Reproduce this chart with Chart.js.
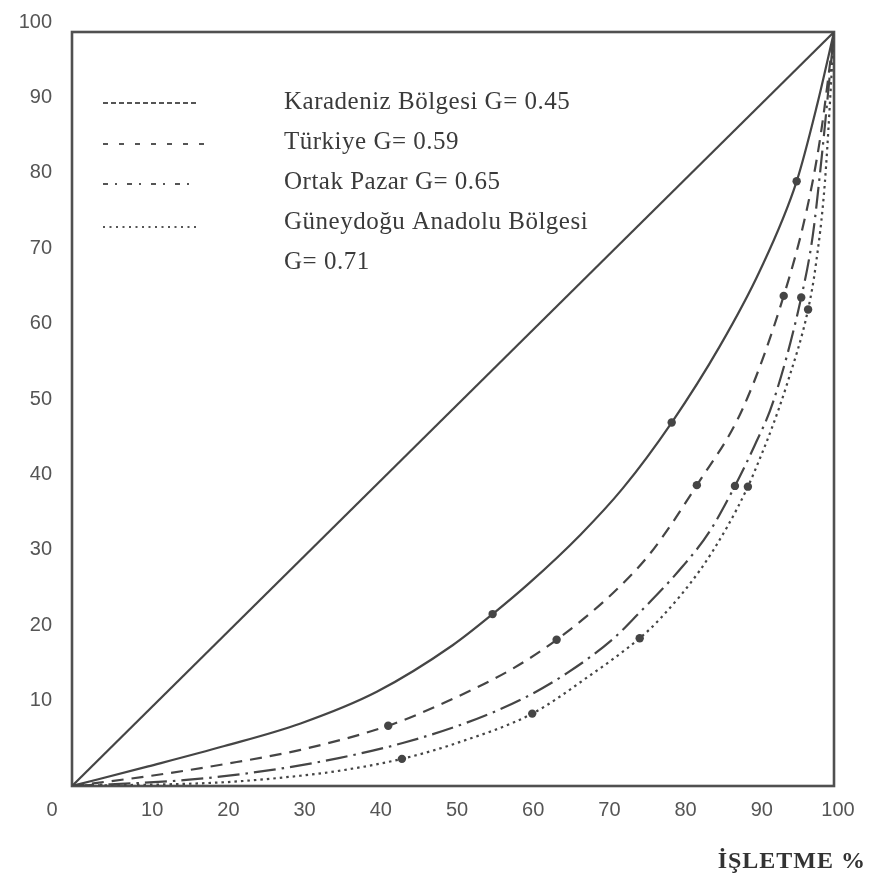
<!DOCTYPE html>
<html><head><meta charset="utf-8">
<script src="https://cdn.jsdelivr.net/npm/chart.js@4/dist/chart.umd.min.js"></script>
<style>html,body{margin:0;padding:0;background:#fff}#wrap{width:869px;height:885px}</style>
</head><body><div id="wrap"><canvas id="c" width="869" height="885"></canvas></div>
<script>
// ---- data ----
const tickValues = [0, 10, 20, 30, 40, 50, 60, 70, 80, 90, 100];
const equalityX = [0, 100];
const equalityY = [0, 100];
const karadenizX = [0, 10, 20, 30, 40, 50, 55.2, 60, 66.7, 72.3, 78.7, 85, 90.3, 95.1, 97.8, 100];
const karadenizY = [0, 2.6, 5.3, 8.3, 12.5, 18.7, 22.8, 26.9, 33.3, 39.5, 48.2, 58.3, 68.4, 80.2, 90.4, 100];
const turkiyeX = [0, 10, 20, 30, 41.5, 49.2, 57.9, 63.6, 71, 76, 82, 88, 93.4, 96.4, 98.2, 100];
const turkiyeY = [0, 1.3, 2.9, 4.8, 8.0, 11.2, 15.6, 19.4, 25.6, 31.0, 39.9, 50.0, 65.0, 76.3, 86.0, 100];
const ortakX = [0, 15, 26, 35, 43.4, 51.8, 59.2, 65, 71, 74, 80.2, 83.7, 87, 89.6, 92, 95.7, 97.2, 98.2, 100];
const ortakY = [0, 0.8, 2.1, 3.7, 5.7, 8.4, 11.6, 15.0, 19.5, 22.5, 29.2, 33.8, 39.8, 45.2, 50.9, 64.8, 72.9, 81.6, 100];
const guneyX = [0, 20, 30.3, 35.6, 43.3, 50.5, 60.4, 67.6, 74.5, 77.2, 82.4, 86, 88.7, 90.3, 92, 93.8, 96.6, 97.6, 98.8, 100];
const guneyY = [0, 0.5, 1.4, 2.1, 3.6, 5.7, 9.6, 14.4, 19.6, 22.2, 28.6, 34.4, 39.7, 43.5, 47.9, 53.2, 63.2, 69.0, 80.0, 100];
// indices of the points drawn with a filled dot
const karadenizDots = [6, 10, 13];
const turkiyeDots = [4, 7, 10, 12];
const ortakDots = [12, 15];
const guneyDots = [4, 6, 8, 12, 16];
const legendLabels = ['Karadeniz Bölgesi G= 0.45', 'Türkiye G= 0.59', 'Ortak Pazar G= 0.65', 'Güneydoğu Anadolu Bölgesi', 'G= 0.71'];
const xAxisTitle = 'İŞLETME %';
const cornerLabel = '0';

const INK = '#454545';
const toPts = (xs, ys) => xs.map((x, i) => ({x, y: ys[i]}));
const dotRadius = (dots) => (ctx) => dots.includes(ctx.dataIndex) ? 4.2 : 0;

function mkSet(label, xs, ys, dash, dots, width) {
  return {
    label, data: toPts(xs, ys), showLine: true,
    borderColor: INK, backgroundColor: INK, borderWidth: width || 2,
    borderDash: dash, borderCapStyle: 'butt',
    cubicInterpolationMode: 'monotone',
    pointRadius: dotRadius(dots), pointHoverRadius: 0,
    pointBackgroundColor: INK, pointBorderWidth: 0
  };
}

const boxPlugin = {
  id: 'box',
  beforeDatasetsDraw(chart) {
    const {ctx, chartArea: a} = chart;
    ctx.save();
    ctx.strokeStyle = '#505050'; ctx.lineWidth = 2.6;
    ctx.strokeRect(a.left, a.top, a.right - a.left, a.bottom - a.top);
    ctx.restore();
  },
  afterDraw(chart) {
    const ctx = chart.ctx;
    ctx.save();
    // corner zero
    ctx.fillStyle = '#555';
    ctx.font = '20px "Liberation Sans"';
    ctx.textAlign = 'center'; ctx.textBaseline = 'middle';
    ctx.fillText(cornerLabel, 52, 810);
    // axis title
    ctx.fillStyle = '#333';
    ctx.font = 'bold 24px "Liberation Serif"';
    ctx.letterSpacing = '1px';
    ctx.textAlign = 'right'; ctx.textBaseline = 'alphabetic';
    ctx.fillText(xAxisTitle, 866, 868);
    // legend
    const samples = [
      {y: 103, dash: [5, 3], x2: 198},
      {y: 144, dash: [5, 11], x2: 204},
      {y: 184, dash: [5, 7, 2, 10], x2: 196},
      {y: 227, dash: [2, 4.5], x2: 200}
    ];
    ctx.strokeStyle = '#555'; ctx.lineWidth = 1.8;
    samples.forEach(s => {
      ctx.setLineDash(s.dash);
      ctx.beginPath(); ctx.moveTo(103, s.y); ctx.lineTo(s.x2, s.y); ctx.stroke();
    });
    ctx.setLineDash([]);
    ctx.fillStyle = '#3a3a3a';
    ctx.font = '25px "Liberation Serif"';
    ctx.letterSpacing = '0.5px';
    ctx.textAlign = 'left'; ctx.textBaseline = 'middle';
    const rowsY = [102, 142, 182, 222, 262];
    legendLabels.forEach((t, i) => ctx.fillText(t, 284, rowsY[i]));
    ctx.restore();
  }
};

const tickFont = {family: '"Liberation Sans"', size: 20};
new Chart(document.getElementById('c'), {
  type: 'scatter',
  data: {
    datasets: [
      mkSet('Eşitlik', equalityX, equalityY, [], [], 2.2),
      mkSet(legendLabels[0], karadenizX, karadenizY, [], karadenizDots, 2.2),
      mkSet(legendLabels[1], turkiyeX, turkiyeY, [12, 8], turkiyeDots, 2.2),
      mkSet(legendLabels[2], ortakX, ortakY, [22, 6, 2.5, 6], ortakDots, 2.2),
      mkSet(legendLabels[3] + ' ' + legendLabels[4], guneyX, guneyY, [2.5, 4], guneyDots, 2.2)
    ]
  },
  options: {
    responsive: false, animation: false, devicePixelRatio: 1,
    layout: {padding: {top: 27, right: 35, left: 0, bottom: 0}},
    plugins: {legend: {display: false}, tooltip: {enabled: false}, title: {display: false}},
    scales: {
      x: {
        type: 'linear', min: 0, max: 100,
        afterBuildTicks: (s) => { s.ticks = tickValues.map(v => ({value: v})); },
        afterFit: (s) => { s.height = 99; },
        grid: {display: false, drawTicks: false}, border: {display: false},
        ticks: {callback: (v) => v === 0 ? '' : String(v), font: tickFont, color: '#555', padding: 12, labelOffset: 4, maxRotation: 0, autoSkip: false}
      },
      y: {
        type: 'linear', min: 0, max: 100,
        afterBuildTicks: (s) => { s.ticks = tickValues.map(v => ({value: v})); },
        afterFit: (s) => { s.width = 72; },
        grid: {display: false, drawTicks: false}, border: {display: false},
        ticks: {callback: (v) => v === 0 ? '' : String(v), font: tickFont, color: '#555', padding: 20, labelOffset: -10, autoSkip: false}
      }
    }
  },
  plugins: [boxPlugin]
});
</script></body></html>
